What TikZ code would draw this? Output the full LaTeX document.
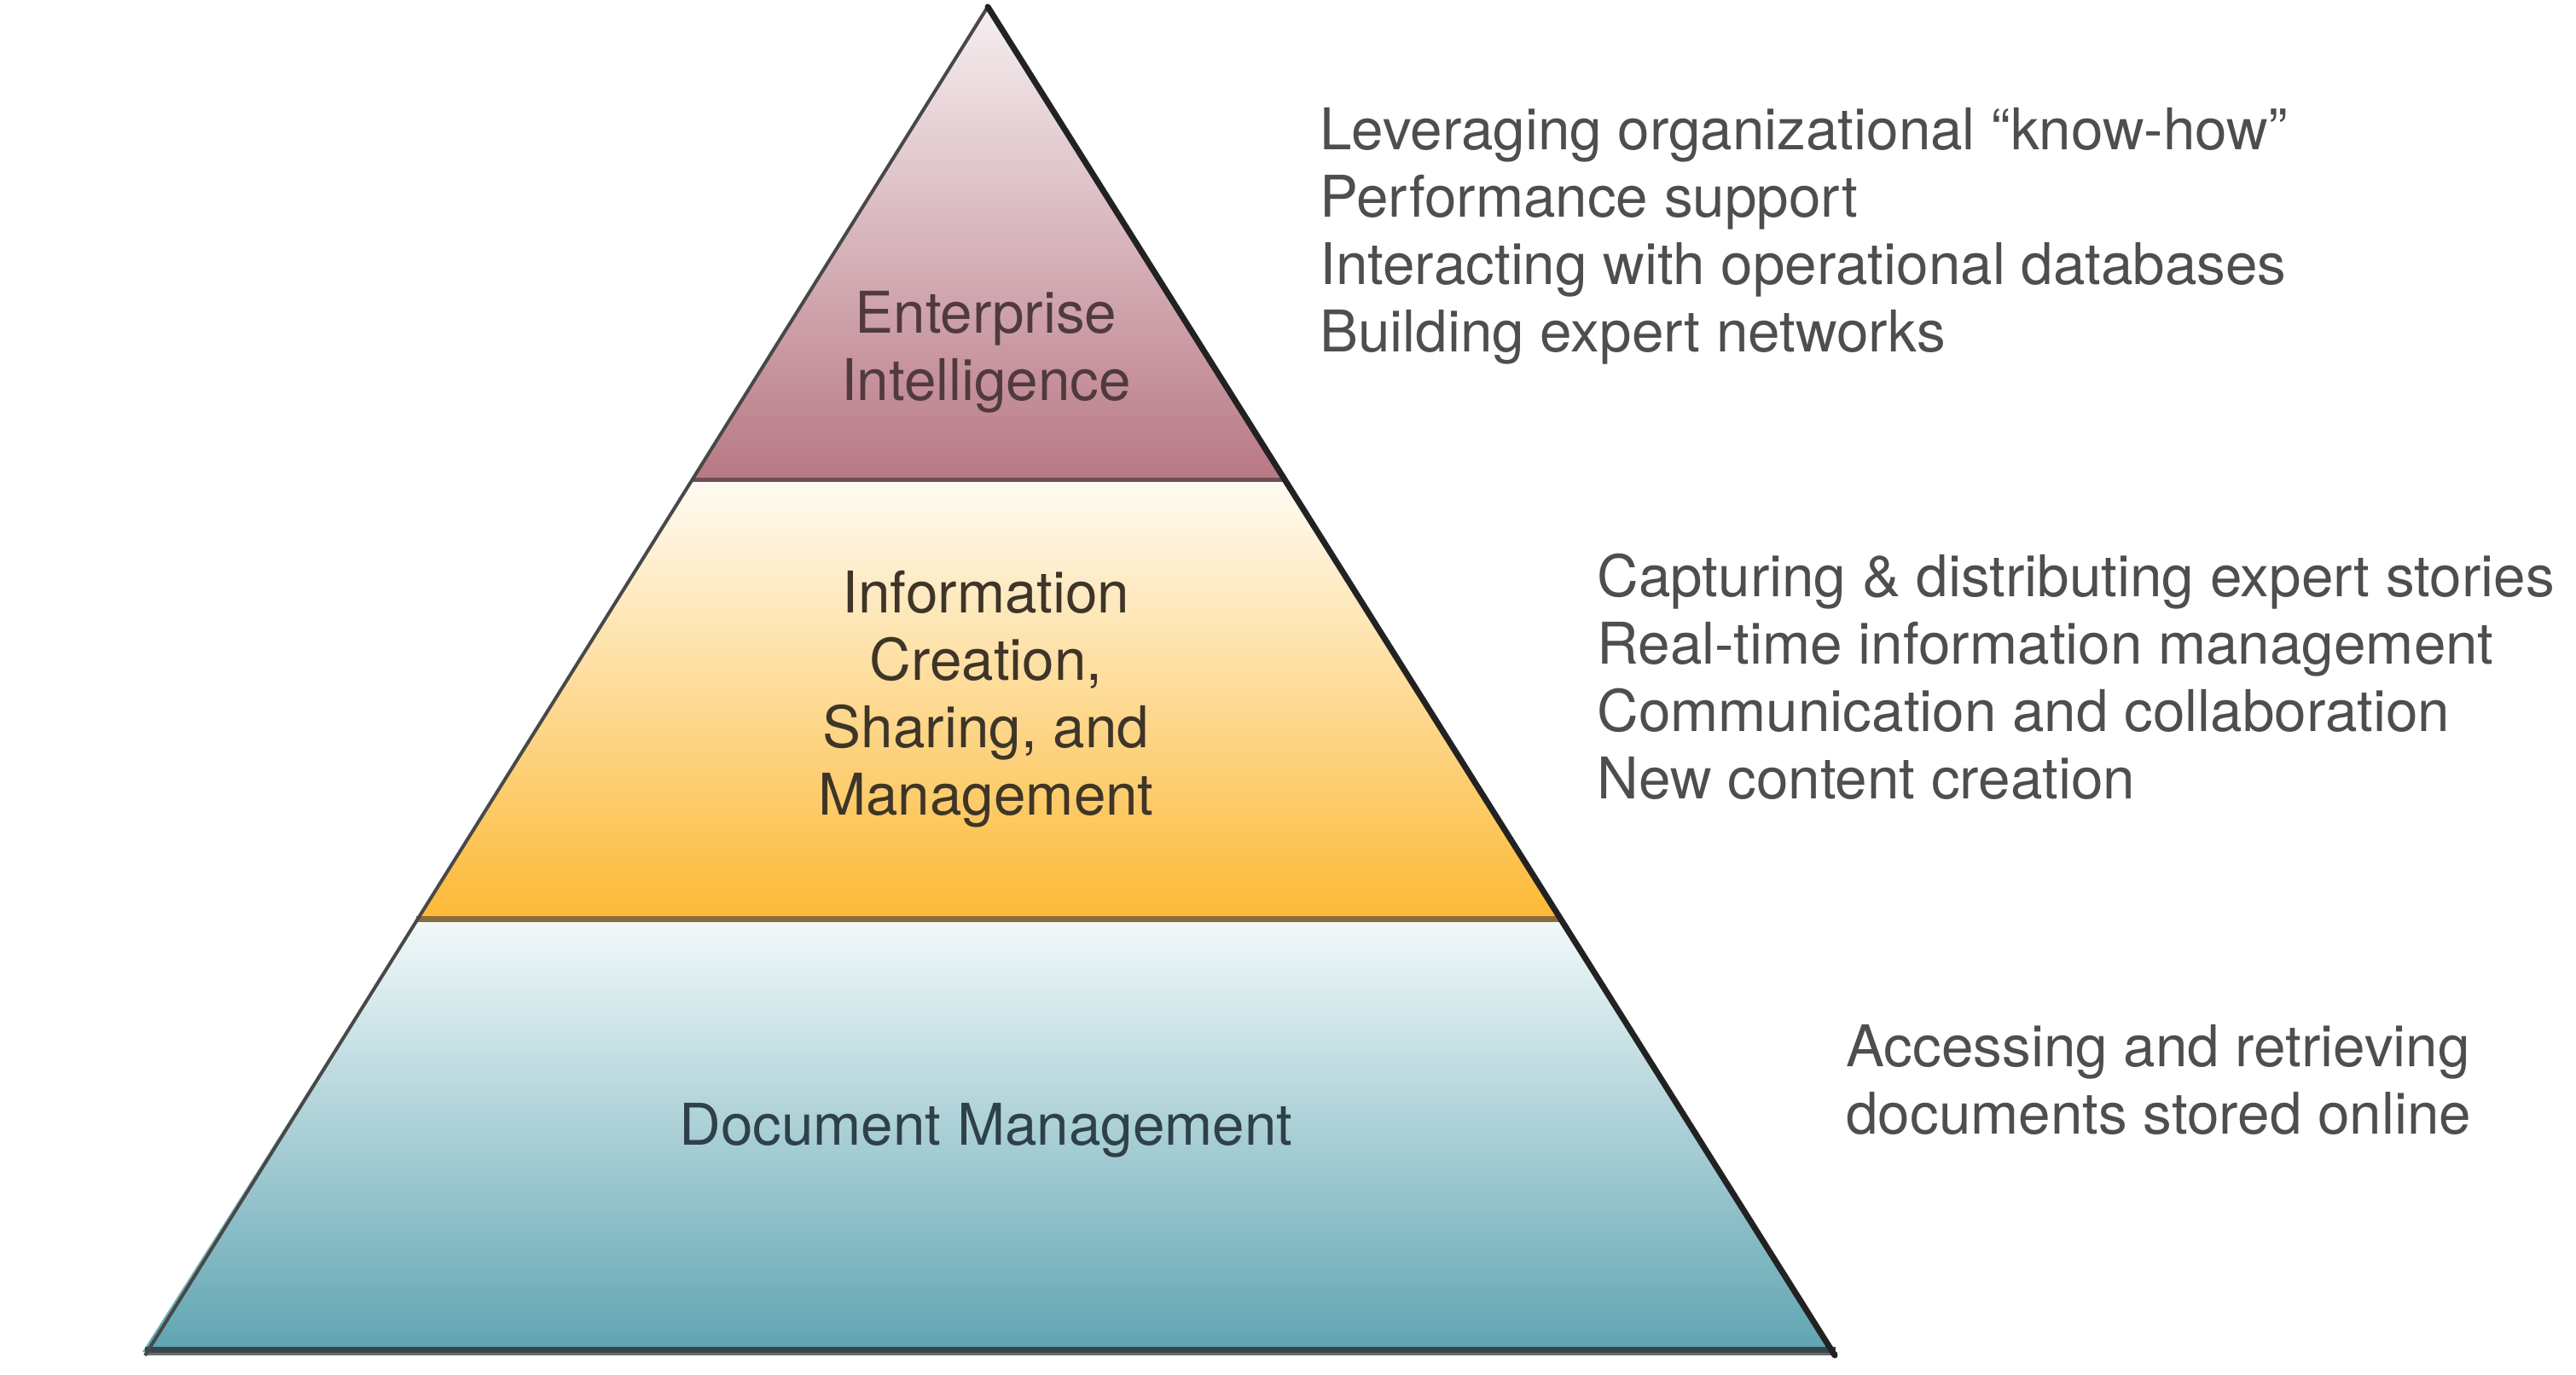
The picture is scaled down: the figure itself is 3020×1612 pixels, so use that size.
\documentclass[tikz,border=0pt]{standalone}
\usepackage{fontspec}
\setmainfont{TeX Gyre Heros}
\usetikzlibrary{shadings}

\definecolor{entTop}{RGB}{246,239,241}
\definecolor{entBot}{RGB}{184,120,132}
\definecolor{infTop}{RGB}{255,251,243}
\definecolor{infBot}{RGB}{252,185,53}
\definecolor{docTop}{RGB}{242,249,250}
\definecolor{docMid}{RGB}{170,204,213}
\definecolor{docBot}{RGB}{95,164,177}
\definecolor{entText}{RGB}{80,58,64}
\definecolor{infText}{RGB}{62,53,40}
\definecolor{docText}{RGB}{47,65,72}
\definecolor{listText}{RGB}{78,78,78}

\newcommand{\pyrfont}{\fontsize{16.85}{19.75}\selectfont}

\tikzset{every picture/.style={line width=0.75pt}}

\begin{document}
\begin{tikzpicture}[x=0.25pt,y=0.25pt,yscale=-1,xscale=1]
\useasboundingbox (0,0) rectangle (3020,1612);

%Shape: Triangle [top band]
\draw [draw=none, top color=entTop, bottom color=entBot]  (1158,8) -- (1505.3,563) -- (810.7,563) -- cycle ;
%Shape: Trapezoid [middle band]
\draw [draw=none, top color=infTop, bottom color=infBot]  (810.7,563) -- (1505.3,563) -- (1827.6,1078) -- (488.4,1078) -- cycle ;
%Shape: Trapezoid [bottom band]
\draw [draw=none, top color=docTop, middle color=docMid, bottom color=docBot]  (488.4,1078) -- (1827.6,1078) -- (2149,1585) -- (167,1585) -- cycle ;

%Straight Lines [band borders]
\draw [color={rgb, 255:red, 110; green, 79; blue, 85 }, line width=1.25pt]   (810.7,563) -- (1505.3,563) ;
\draw [color={rgb, 255:red, 138; green, 108; blue, 62 }, line width=1.75pt]   (488.4,1078) -- (1827.6,1078) ;
%Straight Lines [bottom shadow]
\draw [color={rgb, 255:red, 106; green, 106; blue, 106 }, line width=1pt]   (170,1587) -- (2154,1587) ;
\draw [color={rgb, 255:red, 55; green, 70; blue, 76 }, line width=1.75pt]   (170,1582) -- (2152,1582) ;
%Straight Lines [left and right sides]
\draw [color={rgb, 255:red, 72; green, 72; blue, 72 }, line width=1pt]   (1158,8) -- (170,1589) ;
\draw [color={rgb, 255:red, 34; green, 34; blue, 34 }, line width=1.75pt, line cap=round]   (1158,8) -- (2151,1589) ;

% Text Node
\draw (1156,340) node [anchor=north][inner sep=0pt] [align=center, font=\pyrfont, text=entText] (entLabel) {Enterprise\\Intelligence};
% Text Node
\draw (1156,668) node [anchor=north][inner sep=0pt] [align=center, font=\pyrfont, text=infText] (infLabel) {Information\\Creation,\\Sharing, and\\Management};
% Text Node
\draw (1156,1292) node [anchor=north][inner sep=0pt] [align=center, font=\pyrfont, text=docText] (docLabel) {Document Management};

% Text Node
\draw (1546,125) node [anchor=north west][inner sep=0pt] [align=left, font=\pyrfont, text=listText] (entList) {Leveraging organizational “know-how”\\Performance support\\Interacting with operational databases\\Building expert networks};
% Text Node
\draw (1871,648) node [anchor=north west][inner sep=0pt] [align=left, font=\pyrfont, text=listText] (infList) {Capturing \& distributing expert stories\\Real-time information management\\Communication and collaboration\\New content creation};
% Text Node
\draw (2163,1200) node [anchor=north west][inner sep=0pt] [align=left, font=\pyrfont, text=listText] (docList) {Accessing and retrieving\\documents stored online};

\end{tikzpicture}
\end{document}
